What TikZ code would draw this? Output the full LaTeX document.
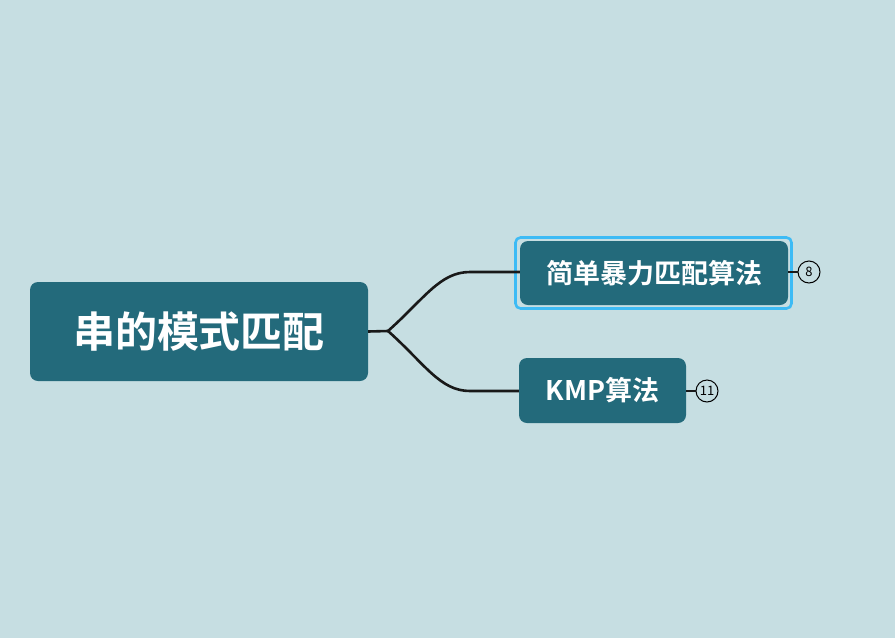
\documentclass[tikz,border=0pt]{standalone}
\usepackage{fontspec}
\newfontfamily\cjk{Noto Sans CJK SC}
\newfontfamily\cjkb{Noto Sans CJK SC Bold}
\definecolor{bgc}{HTML}{C6DEE2}
\definecolor{nodec}{HTML}{236A7B}
\definecolor{selc}{HTML}{3DBBF5}
\begin{document}
\begin{tikzpicture}[x=1pt,y=-1pt,
  topic/.style={fill=nodec,rounded corners=8pt,inner sep=0pt,text=white,font=\cjkb},
  conn/.style={draw=black!90,line width=2.6pt},
  badge/.style={circle,draw=black,line width=1pt,fill=bgc,minimum size=22pt,inner sep=0pt,font=\fontsize{13}{13}\selectfont\cjk}]
\fill[bgc] (0,0) rectangle (895,638);
\useasboundingbox (0,0) rectangle (895,638);
% selection border
\draw[selc,line width=2.6pt,rounded corners=5pt] (515.5,237.5) rectangle (791.5,308.5);
\node[topic,minimum width=338pt,minimum height=99pt,font=\fontsize{42}{42}\selectfont\cjkb] (root) at (199,331.5) {串的模式匹配};
\node[topic,minimum width=268pt,minimum height=64pt,font=\fontsize{27}{27}\selectfont\cjkb] (n1) at (654,273) {简单暴力匹配算法};
\node[topic,minimum width=167pt,minimum height=65pt,font=\fontsize{27}{27}\selectfont\cjkb] (n2) at (602.5,390.5) {KMP算法};
\coordinate (j) at (388,331);
\draw[conn] (root.east) -- (j);
\draw[conn] (j) .. controls (425,298) and (440,272) .. (470,272) -- (n1.west |- 0,272);
\draw[conn] (j) .. controls (425,364) and (440,391) .. (470,391) -- (n2.west |- 0,391);
\node[badge] (b1) at (809,272) {8};
\node[badge] (b2) at (707,391) {11};
\draw[conn,line width=2pt] (n1.east |- 0,272) -- (b1.west);
\draw[conn,line width=2pt] (n2.east |- 0,391) -- (b2.west);
\end{tikzpicture}
\end{document}
